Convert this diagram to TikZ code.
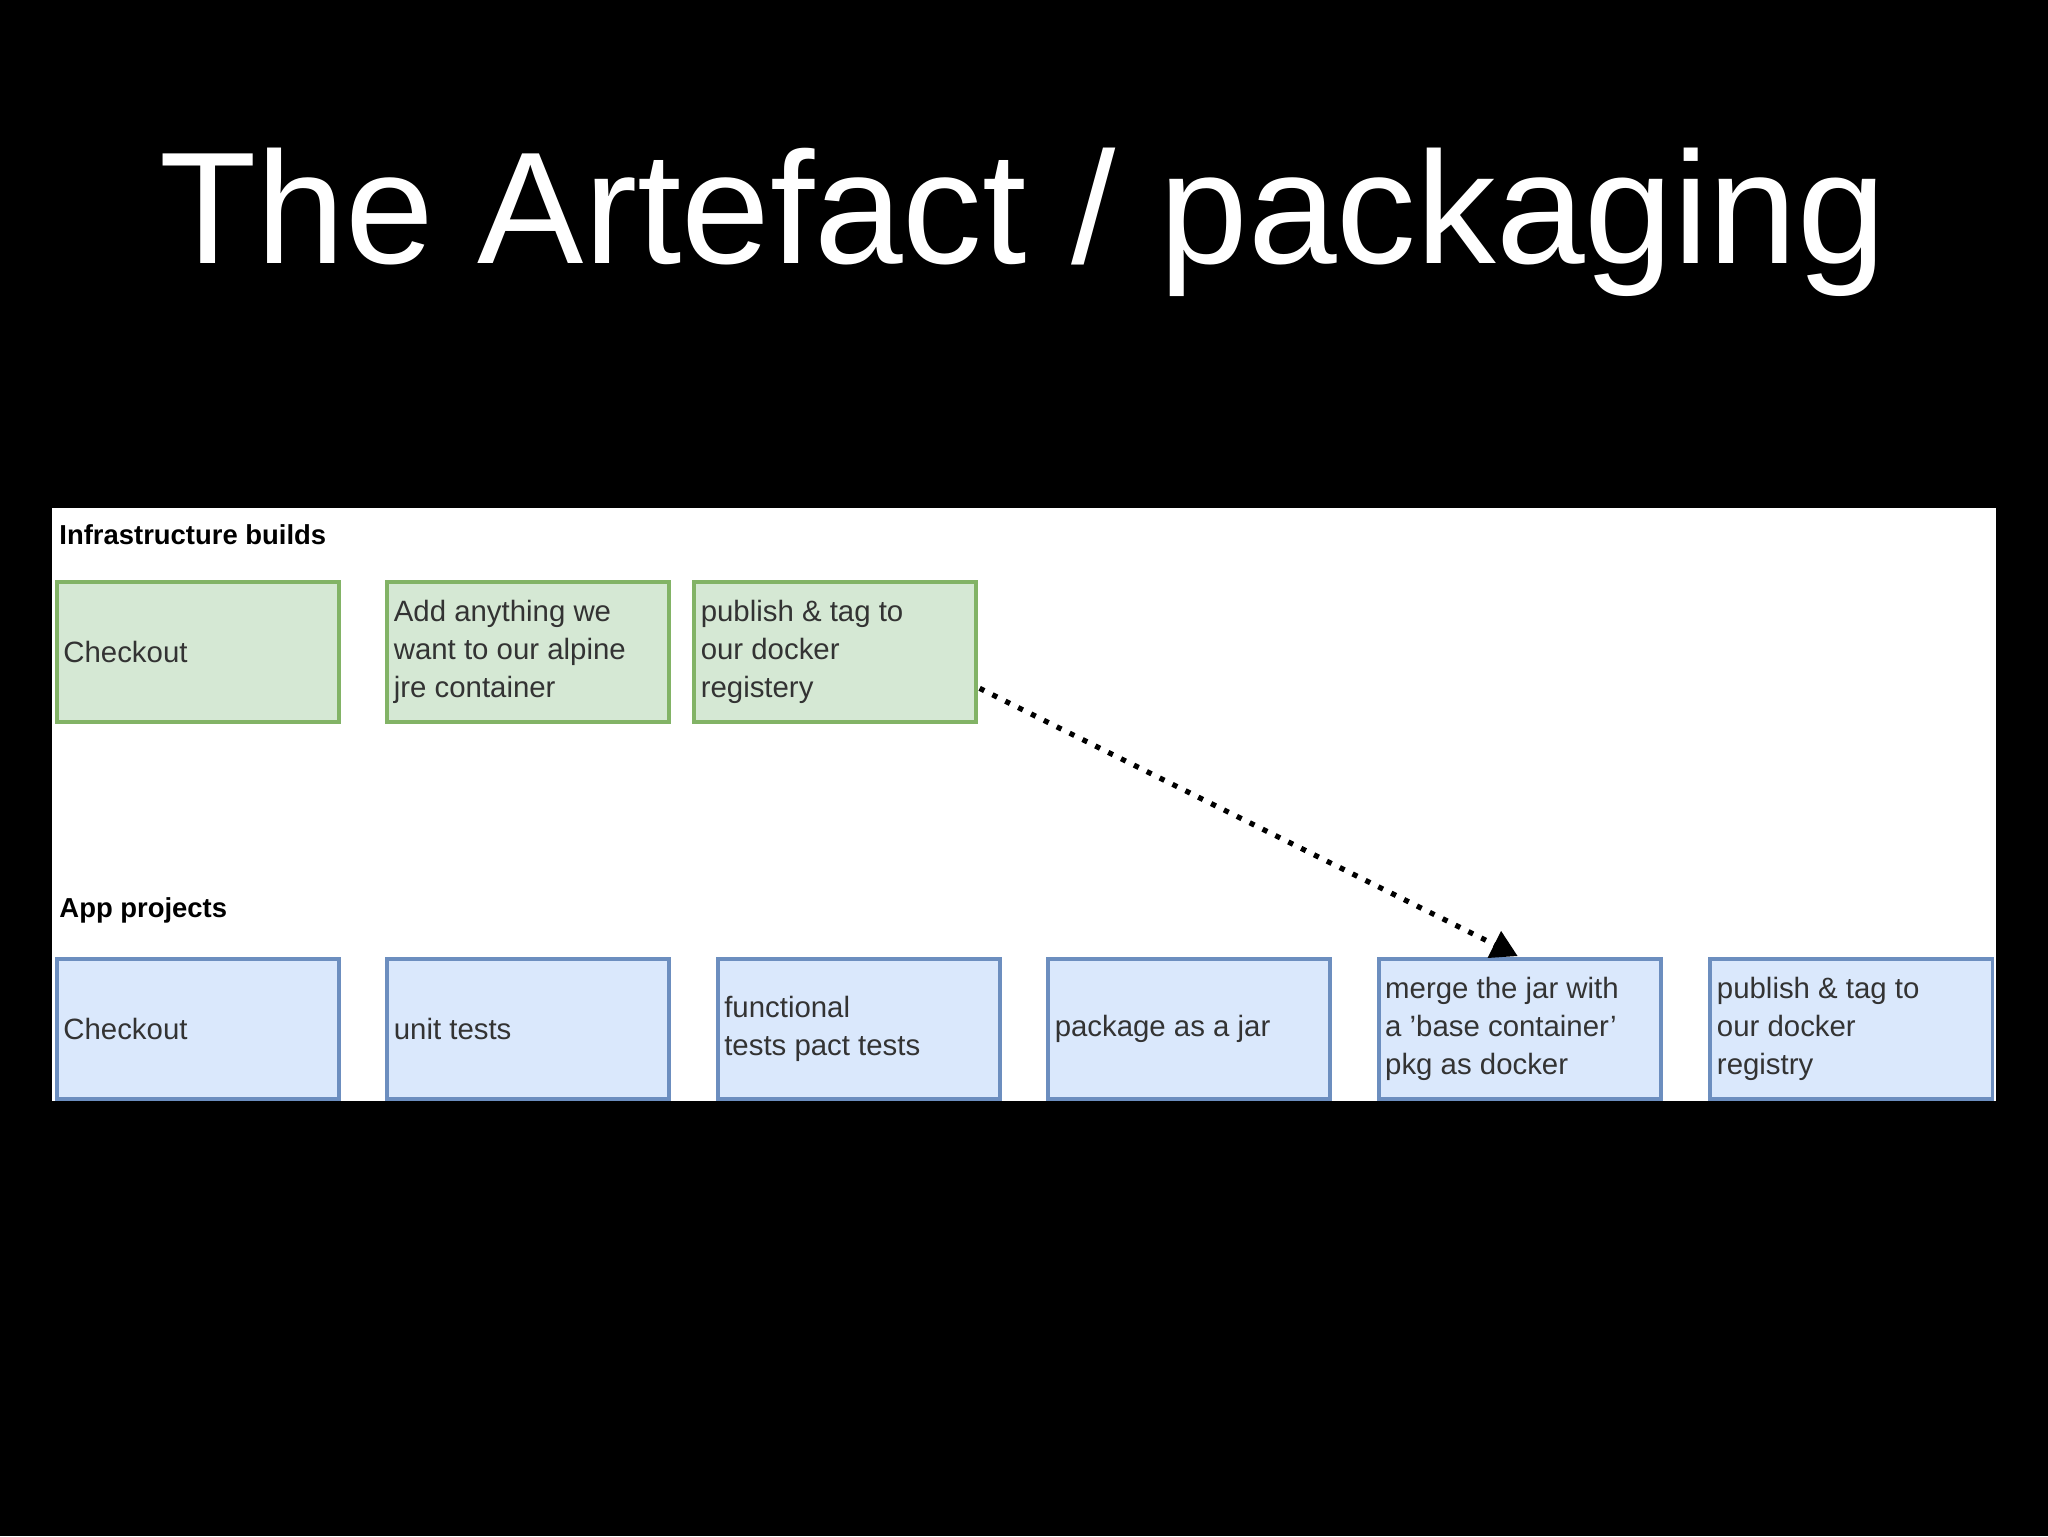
\documentclass[tikz,border=0pt]{standalone}
\usepackage{fontspec}
\setmainfont{Liberation Sans}
\usetikzlibrary{arrows.meta}
\definecolor{gf}{HTML}{D5E8D4}\definecolor{gs}{HTML}{82B366}
\definecolor{bf}{HTML}{DAE8FC}\definecolor{bs}{HTML}{6C8EBF}
\begin{document}
\begin{tikzpicture}[x=1pt,y=-1pt,
  box/.style={draw, line width=3pt, minimum width=216pt, minimum height=107pt, anchor=north west, inner sep=0pt},
  gbox/.style={box, fill=gf, draw=gs},
  bbox/.style={box, fill=bf, draw=bs},
  lbl/.style={anchor=west, align=left, font=\fontsize{22.5}{29}\selectfont, text=black!80}]
\fill[black] (0,0) rectangle (1568,1176);
\useasboundingbox (0,0) rectangle (1568,1176);
\node[text=white, font=\fontsize{122}{130}\selectfont] (title) at (783,170) {The Artefact / packaging};
\fill[white] (40,389) rectangle (1528,843);
\node[anchor=west, font=\bfseries\fontsize{21}{22}\selectfont] (ib) at (42,409) {Infrastructure builds};
\node[anchor=west, font=\bfseries\fontsize{21}{22}\selectfont] (ap) at (42,697) {App projects};
\foreach \n/\x in {g1/42,g2/295,g3/530} \node[gbox] (\n) at (\x,444) {};
\foreach \n/\x in {b1/42,b2/295,b3/548,b4/801,b5/1054,b6/1308} \node[bbox] (\n) at (\x,733) {};
\node[lbl] at ([xshift=3pt]g1.west) {Checkout};
\node[lbl] at ([xshift=3pt]g2.west) {Add anything we\\want to our alpine\\jre container};
\node[lbl] at ([xshift=3pt]g3.west) {publish \& tag to\\our docker\\registery};
\node[lbl] at ([xshift=3pt]b1.west) {Checkout};
\node[lbl] at ([xshift=3pt]b2.west) {unit tests};
\node[lbl] at ([xshift=3pt]b3.west) {functional\\tests pact tests};
\node[lbl] at ([xshift=3pt]b4.west) {package as a jar};
\node[lbl] at ([xshift=3pt]b5.west) {merge the jar with\\a \char39 base container\char39\\pkg as docker};
\node[lbl] at ([xshift=3pt]b6.west) {publish \& tag to\\our docker\\registry};
\coordinate (s) at (750,527);
\coordinate (t) at (1162,732);
\draw[line width=4pt, dash pattern=on 4pt off 7pt, -{Triangle[length=20pt,width=22pt]}] (s) -- (t);
\end{tikzpicture}
\end{document}
